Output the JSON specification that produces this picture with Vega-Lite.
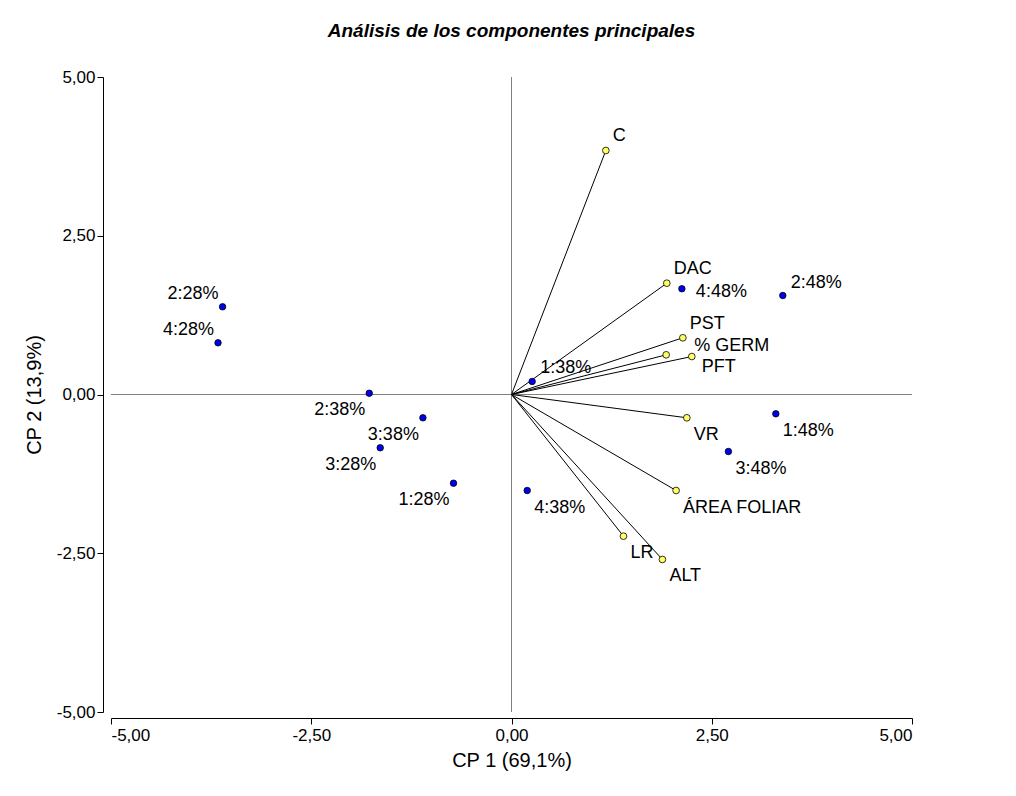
{
  "$schema": "https://vega.github.io/schema/vega-lite/v6.json",
  "autosize": {"type": "none"},
  "width": 801,
  "height": 635,
  "padding": {"left": 111, "top": 77, "right": 104, "bottom": 84},
  "background": "white",
  "title": {
    "text": "Análisis de los componentes principales",
    "font": "Liberation Sans",
    "fontSize": 19,
    "fontWeight": "bold",
    "fontStyle": "italic",
    "color": "black",
    "anchor": "middle",
    "offset": 27
  },
  "config": {
    "view": {"stroke": null},
    "font": "Liberation Sans",
    "axis": {
      "grid": false,
      "domainColor": "#000000",
      "domainWidth": 1,
      "tickColor": "#000000",
      "tickSize": 6,
      "labelFont": "Liberation Sans",
      "labelFontSize": 17,
      "labelColor": "black",
      "titleFont": "Liberation Sans",
      "titleFontSize": 20,
      "titleFontWeight": "normal",
      "titleColor": "black"
    }
  },
  "datasets": {
    "obs": [
      {"name": "2:28%", "x": -3.607, "y": 1.381},
      {"name": "4:28%", "x": -3.664, "y": 0.814},
      {"name": "2:38%", "x": -1.776, "y": 0.02},
      {"name": "3:38%", "x": -1.106, "y": -0.367},
      {"name": "3:28%", "x": -1.639, "y": -0.839},
      {"name": "1:28%", "x": -0.724, "y": -1.397},
      {"name": "4:38%", "x": 0.196, "y": -1.512},
      {"name": "1:38%", "x": 0.258, "y": 0.205},
      {"name": "4:48%", "x": 2.127, "y": 1.665},
      {"name": "2:48%", "x": 3.387, "y": 1.559},
      {"name": "1:48%", "x": 3.3, "y": -0.304},
      {"name": "3:48%", "x": 2.708, "y": -0.898}
    ],
    "vars": [
      {"name": "C", "x": 1.178, "y": 3.843},
      {"name": "DAC", "x": 1.939, "y": 1.753},
      {"name": "PST", "x": 2.139, "y": 0.893},
      {"name": "% GERM", "x": 1.931, "y": 0.625},
      {"name": "PFT", "x": 2.251, "y": 0.598},
      {"name": "VR", "x": 2.189, "y": -0.367},
      {"name": "ÁREA FOLIAR", "x": 2.055, "y": -1.512},
      {"name": "LR", "x": 1.398, "y": -2.231},
      {"name": "ALT", "x": 1.884, "y": -2.598}
    ],
    "zero": [{"v": 0}]
  },
  "encoding": {
    "x": {
      "field": "x",
      "type": "quantitative",
      "scale": {"domain": [-5, 5], "nice": false, "zero": false},
      "axis": {
        "title": "CP 1 (69,1%)",
        "values": [-5, -2.5, 0, 2.5, 5],
        "labelExpr": "replace(replace(format(datum.value, '.2f'), '.', ','), '\u2212', '-')",
        "offset": 6,
        "labelPadding": 3,
        "titlePadding": 7
      }
    },
    "y": {
      "field": "y",
      "type": "quantitative",
      "scale": {"domain": [-5, 5], "nice": false, "zero": false},
      "axis": {
        "title": "CP 2 (13,9%)",
        "values": [-5, -2.5, 0, 2.5, 5],
        "labelExpr": "replace(replace(format(datum.value, '.2f'), '.', ','), '\u2212', '-')",
        "offset": 8,
        "labelPadding": 2,
        "titlePadding": 12
      }
    }
  },
  "layer": [
    {
      "data": {"name": "zero"},
      "mark": {"type": "rule", "color": "#808080", "strokeWidth": 1},
      "encoding": {"x": {"field": "v", "type": "quantitative"}, "y": null}
    },
    {
      "data": {"name": "zero"},
      "mark": {"type": "rule", "color": "#808080", "strokeWidth": 1},
      "encoding": {"y": {"field": "v", "type": "quantitative"}, "x": null}
    },
    {
      "data": {"name": "vars"},
      "mark": {"type": "rule", "color": "black", "strokeWidth": 1},
      "encoding": {
        "x": {"datum": 0, "type": "quantitative"},
        "y": {"datum": 0, "type": "quantitative"},
        "x2": {"field": "x"},
        "y2": {"field": "y"}
      }
    },
    {
      "data": {"name": "obs"},
      "mark": {"type": "point", "shape": "circle", "filled": true, "size": 42, "fill": "#0000f0", "stroke": "black", "strokeWidth": 0.8, "opacity": 1}
    },
    {
      "data": {"name": "vars"},
      "mark": {"type": "point", "shape": "circle", "filled": true, "size": 45, "fill": "#ffff66", "stroke": "black", "strokeWidth": 0.8, "opacity": 1}
    },
    {
      "data": {"name": "obs"},
      "transform": [{"filter": {"field": "name", "oneOf": ["2:28%", "4:28%"]}}],
      "mark": {"type": "text", "align": "right", "baseline": "middle", "dx": -4, "dy": -13, "fontSize": 18, "color": "black"},
      "encoding": {"text": {"field": "name"}}
    },
    {
      "data": {"name": "obs"},
      "transform": [{"filter": {"field": "name", "oneOf": ["2:38%", "3:38%", "3:28%", "1:28%"]}}],
      "mark": {"type": "text", "align": "right", "baseline": "middle", "dx": -4, "dy": 17, "fontSize": 18, "color": "black"},
      "encoding": {"text": {"field": "name"}}
    },
    {
      "data": {"name": "obs"},
      "transform": [{"filter": {"field": "name", "oneOf": ["4:38%", "1:48%", "3:48%"]}}],
      "mark": {"type": "text", "align": "left", "baseline": "middle", "dx": 7, "dy": 17, "fontSize": 18, "color": "black"},
      "encoding": {"text": {"field": "name"}}
    },
    {
      "data": {"name": "obs"},
      "transform": [{"filter": {"field": "name", "oneOf": ["1:38%", "2:48%"]}}],
      "mark": {"type": "text", "align": "left", "baseline": "middle", "dx": 8, "dy": -13, "fontSize": 18, "color": "black"},
      "encoding": {"text": {"field": "name"}}
    },
    {
      "data": {"name": "obs"},
      "transform": [{"filter": {"field": "name", "oneOf": ["4:48%"]}}],
      "mark": {"type": "text", "align": "left", "baseline": "middle", "dx": 14, "dy": 3, "fontSize": 18, "color": "black"},
      "encoding": {"text": {"field": "name"}}
    },
    {
      "data": {"name": "vars"},
      "transform": [{"filter": {"field": "name", "oneOf": ["VR", "ÁREA FOLIAR", "LR", "ALT"]}}],
      "mark": {"type": "text", "align": "left", "baseline": "middle", "dx": 7, "dy": 17, "fontSize": 18, "color": "black"},
      "encoding": {"text": {"field": "name"}}
    },
    {
      "data": {"name": "vars"},
      "transform": [{"filter": {"field": "name", "oneOf": ["C", "DAC", "PST"]}}],
      "mark": {"type": "text", "align": "left", "baseline": "middle", "dx": 7, "dy": -14, "fontSize": 18, "color": "black"},
      "encoding": {"text": {"field": "name"}}
    },
    {
      "data": {"name": "vars"},
      "transform": [{"filter": {"field": "name", "oneOf": ["% GERM"]}}],
      "mark": {"type": "text", "align": "left", "baseline": "middle", "dx": 28, "dy": -9, "fontSize": 18, "color": "black"},
      "encoding": {"text": {"field": "name"}}
    },
    {
      "data": {"name": "vars"},
      "transform": [{"filter": {"field": "name", "oneOf": ["PFT"]}}],
      "mark": {"type": "text", "align": "left", "baseline": "middle", "dx": 10, "dy": 10, "fontSize": 18, "color": "black"},
      "encoding": {"text": {"field": "name"}}
    }
  ]
}
